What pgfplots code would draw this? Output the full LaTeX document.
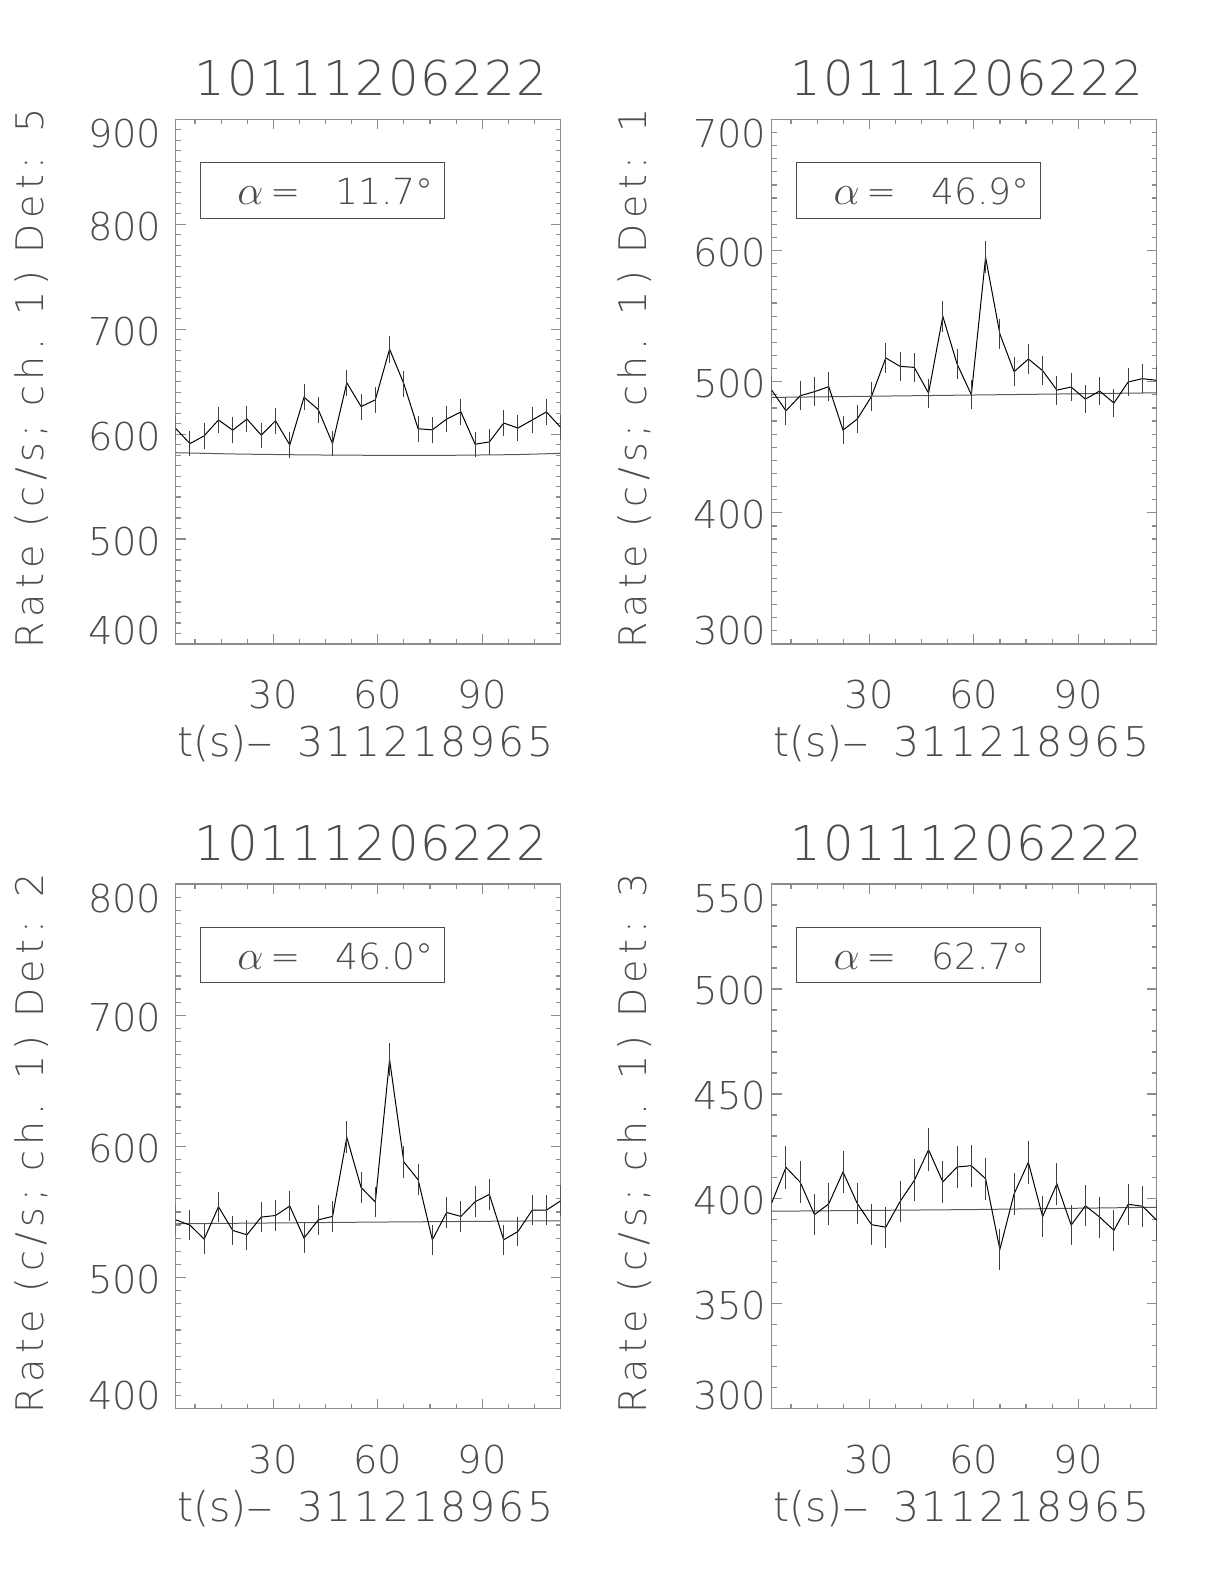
\documentclass[border=0pt]{standalone}
\usepackage{pgfplots}
\pgfplotsset{compat=1.18}
\usepackage{pgfplotstable}
\usepackage{graphicx}
\usepackage{fontspec}
\IfFontExistsTF{DejaVu Sans ExtraLight}{\def\myfont{DejaVu Sans ExtraLight}\definecolor{txt}{gray}{0.30}}{\def\myfont{DejaVu Sans}\definecolor{txt}{gray}{0.45}}
\setmainfont{\myfont}
\newfontfamily\ylabfont[LetterSpace=14.5]{\myfont}
\newfontfamily\xdigfont[LetterSpace=6.5]{\myfont}
\newfontfamily\titfont[LetterSpace=3.5]{\myfont}

\pgfplotstableread{
x y e
1.950 605.4 12.2
6.046 591.0 12.0
10.142 598.4 12.1
14.238 613.5 12.2
18.334 603.8 12.1
22.430 614.4 12.2
26.526 599.0 12.1
30.622 612.8 12.2
34.718 589.7 12.0
38.814 635.2 12.5
42.910 623.4 12.3
47.006 591.0 12.0
51.102 649.0 12.6
55.198 626.3 12.4
59.294 632.7 12.4
63.390 681.0 12.9
67.486 648.0 12.6
71.582 605.1 12.2
75.678 604.1 12.1
79.774 614.4 12.2
83.870 621.2 12.3
87.966 590.4 12.0
92.062 592.6 12.0
96.158 610.6 12.2
100.254 605.8 12.2
104.350 613.5 12.2
108.446 621.2 12.3
112.542 606.4 12.2
}\dataA

\pgfplotstableread{
x y
1.950 582.3
20.000 581.0
40.000 580.2
60.000 579.8
80.000 579.8
100.000 580.5
112.542 581.7
}\bgA

\pgfplotstableread{
x y e
1.950 493.5 11.0
6.046 477.8 10.8
10.142 489.3 10.9
14.238 492.4 11.0
18.334 496.2 11.0
22.430 463.1 10.6
26.526 471.5 10.7
30.622 488.8 10.9
34.718 518.1 11.2
38.814 511.7 11.2
42.910 510.9 11.2
47.006 491.3 11.0
51.102 549.8 11.6
55.198 513.5 11.2
59.294 490.1 10.9
63.390 594.9 12.1
67.486 536.4 11.4
71.582 507.6 11.1
75.678 517.3 11.2
79.774 508.4 11.1
83.870 493.6 11.0
87.966 495.9 11.0
92.062 486.7 10.9
96.158 492.9 11.0
100.254 483.7 10.9
104.350 499.8 11.0
108.446 502.3 11.1
112.542 501.0 11.1
}\dataB

\pgfplotstableread{
x y
1.950 488.0
112.542 491.5
}\bgB

\pgfplotstableread{
x y e
1.950 544.0 11.5
6.046 540.0 11.5
10.142 529.3 11.4
14.238 554.0 11.6
18.334 535.9 11.4
22.430 532.6 11.4
26.526 546.1 11.5
30.622 547.3 11.6
34.718 554.5 11.6
38.814 530.1 11.4
42.910 544.0 11.5
47.006 546.6 11.6
51.102 606.9 12.2
55.198 568.7 11.8
59.294 557.6 11.7
63.390 666.2 12.8
67.486 588.1 12.0
71.582 574.6 11.8
75.678 528.8 11.4
79.774 549.6 11.6
83.870 546.6 11.6
87.966 557.8 11.7
92.062 563.4 11.7
96.158 528.8 11.4
100.254 535.1 11.4
104.350 551.4 11.6
108.446 551.4 11.6
112.542 558.5 11.7
}\dataC

\pgfplotstableread{
x y
1.950 541.0
60.000 542.3
112.542 543.3
}\bgC

\pgfplotstableread{
x y e
1.950 398.1 9.9
6.046 415.0 10.1
10.142 407.9 10.0
14.238 392.5 9.8
18.334 397.6 9.9
22.430 412.8 10.0
26.526 397.8 9.9
30.622 387.7 9.7
34.718 386.5 9.7
38.814 398.7 9.9
42.910 408.8 10.0
47.006 423.4 10.2
51.102 408.1 10.0
55.198 415.2 10.1
59.294 415.8 10.1
63.390 409.6 10.0
67.486 375.9 9.6
71.582 402.4 9.9
75.678 417.4 10.1
79.774 391.5 9.8
83.870 407.1 10.0
87.966 387.5 9.7
92.062 396.7 9.8
96.158 391.3 9.8
100.254 385.0 9.7
104.350 397.4 9.9
108.446 396.5 9.8
112.542 389.8 9.8
}\dataD

\pgfplotstableread{
x y
1.950 394.1
60.000 394.9
112.542 396.0
}\bgD

\definecolor{frm}{gray}{0.55}

\pgfplotsset{
  panel/.style={
    scale only axis, width=192.5pt, height=262.3pt,
    anchor=south west,
    xmin=1.95, xmax=112.542,
    xtick={30,60,90},
    minor xtick={7.5,15,22.5,37.5,45,52.5,67.5,75,82.5,97.5,105},
    tick align=inside,
    xtick pos=both, ytick pos=both,
    major tick length=5pt, minor tick length=2.5pt,
    axis line style={draw=frm, line width=0.7pt},
    every tick/.append style={draw=frm, line width=0.6pt},
    /pgf/number format/assume math mode=true,
    xticklabel style={font=\fontsize{19.2}{20}\selectfont, text=txt, anchor=base, inner sep=0pt, yshift=-32.5pt},
    yticklabel style={font=\fontsize{19.2}{20}\selectfont, text=txt, anchor=east, inner sep=0pt, yshift=-1pt},
    xlabel={t(s)\scalebox{1.3}[1]{–}\hspace{12pt}{\xdigfont 311218965}},
    every axis x label/.style={at={(axis description cs:0.5,0)}, anchor=base, yshift=-56.5pt, xshift=-1.5pt, font=\fontsize{20.5}{22}\selectfont, text=txt},
    every axis title/.style={at={(axis description cs:0.5,1)}, anchor=base, yshift=12pt, xshift=1.5pt, font=\titfont\fontsize{24}{26}\selectfont, text=txt},
    title={10111206222},
  },
  leftpanel/.style={
    yticklabel style={xshift=-7pt},
    every axis y label/.style={at={([xshift=-66.3pt,yshift=1.5pt]axis description cs:0,0.5)}, rotate=90, anchor=base, font=\ylabfont\fontsize{19}{20}\selectfont, text=txt},
  },
  rightpanel/.style={
    yticklabel style={xshift=-2.5pt},
    every axis y label/.style={at={([xshift=-62.6pt,yshift=1.5pt]axis description cs:0,0.5)}, rotate=90, anchor=base, font=\ylabfont\fontsize{19}{20}\selectfont, text=txt},
  },
  dataline/.style={black, line width=0.5pt, mark=none,
    error bars/.cd, y dir=both, y explicit, error mark=none,
    error bar style={black!75, line width=0.5pt}},
  bgline/.style={black!65, line width=0.5pt, mark=none},
}

\newcommand{\anglebox}[1]{%
  \node[draw=txt, line width=0.6pt, minimum width=122pt, minimum height=27.8pt, anchor=north west, inner sep=0pt] (b) at ([xshift=12pt,yshift=-21.3pt]rel axis cs:0,1) {};
  \node[anchor=base west, inner sep=0pt, text=txt] at ([xshift=18.7pt,yshift=-7pt]b.west) {\fontsize{22}{24}\selectfont$\alpha$};
  \node[anchor=base west, inner sep=0pt, text=txt] at ([xshift=35.3pt,yshift=-7pt]b.west) {\fontsize{18}{20}\selectfont =};
  \node[anchor=base west, inner sep=0pt, text=txt] at ([xshift=67.7pt,yshift=-7pt]b.west) {\fontsize{18}{20}\selectfont #1°};
}

\begin{document}
\begin{tikzpicture}
\useasboundingbox (0,0) rectangle (612pt,792pt);

% top-left
\begin{axis}[panel, leftpanel, at={(87.85pt,470pt)},
  ymin=400, ymax=900, ytick={400,500,600,700,800,900}, minor y tick num=9,
  yticklabels={{\raisebox{7.5pt}[\height][\depth]{400}},500,600,700,800,{\raisebox{-6pt}[\height][\depth]{900}}},
  ylabel={Rate (c/s; ch. 1) Det: 5}]
\addplot[bgline] table[x=x,y=y]{\bgA};
\addplot[dataline] table[x=x,y=y,y error=e]{\dataA};
\anglebox{11.7}
\end{axis}

% top-right
\begin{axis}[panel, rightpanel, at={(385.85pt,470pt)},
  ymin=300, ymax=700, ytick={300,400,500,600,700}, minor y tick num=9,
  yticklabels={{\raisebox{7.5pt}[\height][\depth]{300}},400,500,600,{\raisebox{-6pt}[\height][\depth]{700}}},
  ylabel={Rate (c/s; ch. 1) Det: 1}]
\addplot[bgline] table[x=x,y=y]{\bgB};
\addplot[dataline] table[x=x,y=y,y error=e]{\dataB};
\anglebox{46.9}
\end{axis}

% bottom-left
\begin{axis}[panel, leftpanel, at={(87.85pt,87.65pt)},
  ymin=400, ymax=800, ytick={400,500,600,700,800}, minor y tick num=9,
  yticklabels={{\raisebox{7.5pt}[\height][\depth]{400}},500,600,700,{\raisebox{-6pt}[\height][\depth]{800}}},
  ylabel={Rate (c/s; ch. 1) Det: 2}]
\addplot[bgline] table[x=x,y=y]{\bgC};
\addplot[dataline] table[x=x,y=y,y error=e]{\dataC};
\anglebox{46.0}
\end{axis}

% bottom-right
\begin{axis}[panel, rightpanel, at={(385.85pt,87.65pt)},
  ymin=300, ymax=550, ytick={300,350,400,450,500,550}, minor y tick num=4,
  yticklabels={{\raisebox{7.5pt}[\height][\depth]{300}},350,400,450,500,{\raisebox{-6pt}[\height][\depth]{550}}},
  ylabel={Rate (c/s; ch. 1) Det: 3}]
\addplot[bgline] table[x=x,y=y]{\bgD};
\addplot[dataline] table[x=x,y=y,y error=e]{\dataD};
\anglebox{62.7}
\end{axis}
\end{tikzpicture}
\end{document}
